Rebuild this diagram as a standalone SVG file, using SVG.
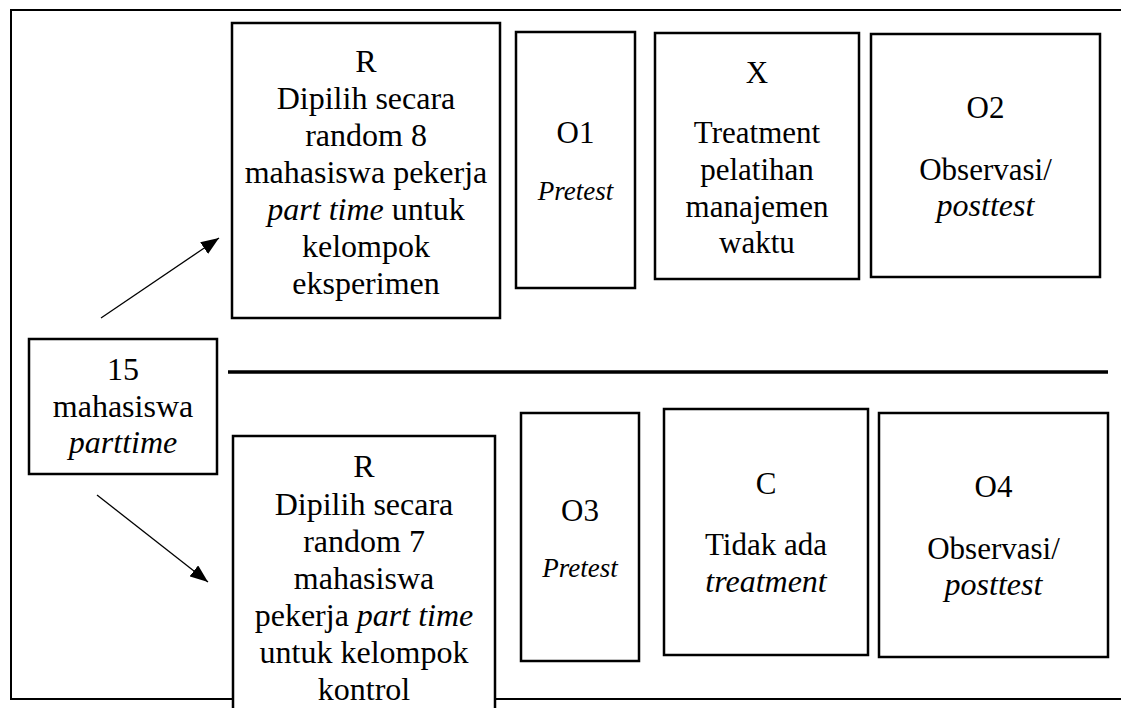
<svg xmlns="http://www.w3.org/2000/svg" width="1121" height="708" viewBox="0 0 1121 708">
<style>
.box{fill:#fff;stroke:#000;stroke-width:2.5}
.t{font-family:"Liberation Serif","Times New Roman",Tinos,"DejaVu Serif",serif;font-size:31px;fill:#000;text-anchor:middle}
.b{font-size:32px}
.s{font-size:27px}
.i{font-style:italic}
.iw{font-style:italic;font-size:32px}
.conn{stroke:#000;stroke-width:1.3;fill:none}
</style>
<defs>
<marker id="ah" markerUnits="userSpaceOnUse" markerWidth="20" markerHeight="14" refX="18" refY="7" orient="auto">
<path d="M0,0 L18,7 L0,14 z" fill="#000"/>
</marker>
</defs>
<rect x="0" y="0" width="1121" height="708" fill="#fff"/>
<path d="M1125,10 H11 V699 H1125" fill="none" stroke="#000" stroke-width="2"/>
<line x1="228" y1="372" x2="1108" y2="372" stroke="#000" stroke-width="3.5"/>
<g id="connectors">
<line class="conn" x1="101" y1="318" x2="219" y2="238" marker-end="url(#ah)"/>
<line class="conn" x1="97" y1="495" x2="208" y2="582" marker-end="url(#ah)"/>
</g>
<g id="n15">
<rect class="box" x="29" y="339" width="188" height="135"/>
<text class="t b" x="123" y="380">15</text>
<text class="t b" x="123" y="417">mahasiswa</text>
<text class="t iw" x="123" y="453">parttime</text>
</g>
<g id="rExp">
<rect class="box" x="232" y="23" width="268" height="295"/>
<text class="t b" x="366" y="72">R</text>
<text class="t b" x="366" y="109">Dipilih secara</text>
<text class="t b" x="366" y="146">random 8</text>
<text class="t b" x="366" y="183">mahasiswa pekerja</text>
<text class="t b" x="366" y="220"><tspan class="i">part time</tspan> untuk</text>
<text class="t b" x="366" y="257">kelompok</text>
<text class="t b" x="366" y="294">eksperimen</text>
</g>
<g id="o1">
<rect class="box" x="516" y="32" width="119" height="256"/>
<text class="t" x="575.5" y="143">O1</text>
<text class="t s i" x="575.5" y="200">Pretest</text>
</g>
<g id="x">
<rect class="box" x="655" y="33" width="204" height="246"/>
<text class="t" x="757" y="83">X</text>
<text class="t" x="757" y="143">Treatment</text>
<text class="t" x="757" y="180">pelatihan</text>
<text class="t" x="757" y="217">manajemen</text>
<text class="t" x="757" y="253">waktu</text>
</g>
<g id="o2">
<rect class="box" x="871" y="34" width="229" height="243"/>
<text class="t" x="985.5" y="118">O2</text>
<text class="t" x="985.5" y="180">Observasi/</text>
<text class="t iw" x="985.5" y="216">posttest</text>
</g>
<g id="rKon">
<rect class="box" x="233" y="436" width="262" height="290"/>
<text class="t b" x="364" y="477">R</text>
<text class="t b" x="364" y="515">Dipilih secara</text>
<text class="t b" x="364" y="552">random 7</text>
<text class="t b" x="364" y="589">mahasiswa</text>
<text class="t b" x="364" y="626">pekerja <tspan class="i">part time</tspan></text>
<text class="t b" x="364" y="663">untuk kelompok</text>
<text class="t b" x="364" y="700">kontrol</text>
</g>
<g id="o3">
<rect class="box" x="521" y="413" width="118" height="248"/>
<text class="t" x="580" y="521">O3</text>
<text class="t s i" x="580" y="577">Pretest</text>
</g>
<g id="c">
<rect class="box" x="664" y="409" width="204" height="246"/>
<text class="t" x="766" y="494">C</text>
<text class="t" x="766" y="555">Tidak ada</text>
<text class="t iw" x="766" y="592">treatment</text>
</g>
<g id="o4">
<rect class="box" x="879" y="413" width="229" height="244"/>
<text class="t" x="993.5" y="497">O4</text>
<text class="t" x="993.5" y="559">Observasi/</text>
<text class="t iw" x="993.5" y="595">posttest</text>
</g>
</svg>
